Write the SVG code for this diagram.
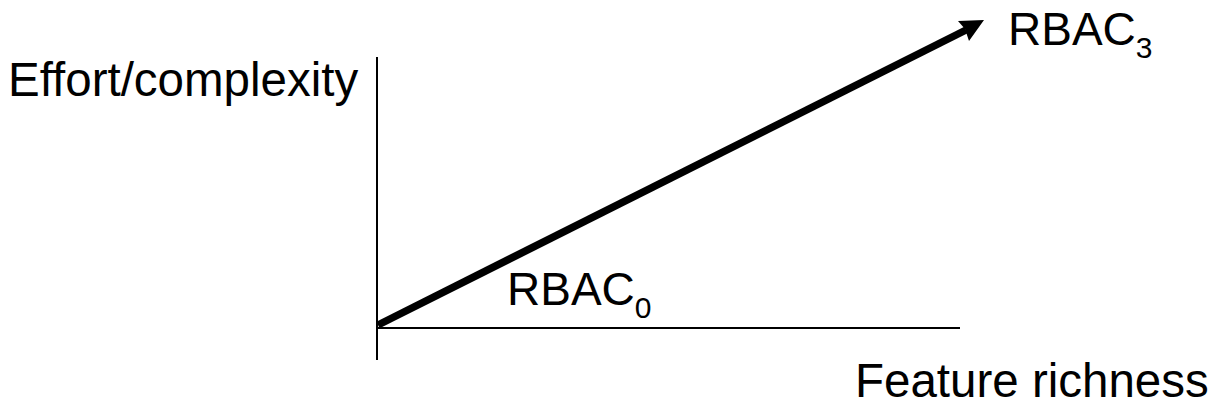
<svg xmlns="http://www.w3.org/2000/svg" width="1214" height="405" viewBox="0 0 1214 405">
<style>
text{font-family:"Liberation Sans",Arial,sans-serif;font-size:46px;fill:#000}
.big{font-size:47.5px}
.sub{font-size:30px}
.axis{stroke:#000;stroke-width:2;fill:none}
</style>
<g id="connectors">
<line class="axis" x1="377" y1="57" x2="377" y2="360"/>
<line class="axis" x1="377" y1="328" x2="960" y2="328"/>
<line x1="378" y1="325" x2="966" y2="30" stroke="#000" stroke-width="7.5"/>
<polygon points="984,20 958,21 965,29 969,41" fill="#000"/>
</g>
<g id="label-y"><text class="big" x="8" y="96">Effort/complexity</text></g>
<g id="label-x"><text class="big" x="855" y="397">Feature richness</text></g>
<g id="rbac0"><text x="507" y="305">RBAC<tspan class="sub" dy="13">0</tspan></text></g>
<g id="rbac3"><text x="1008" y="45">RBAC<tspan class="sub" dy="13">3</tspan></text></g>
</svg>
